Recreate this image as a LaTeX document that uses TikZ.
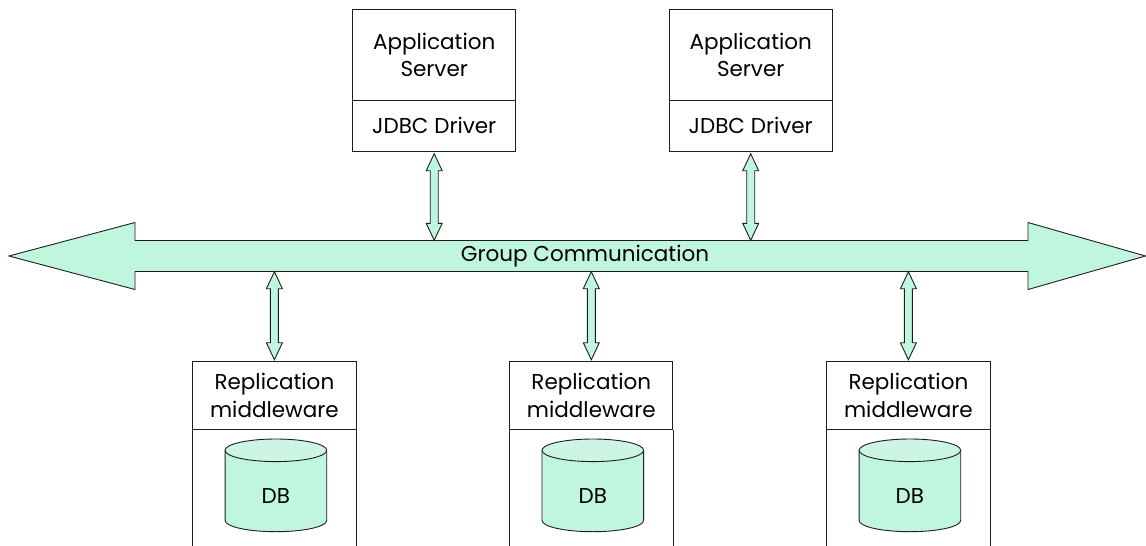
\documentclass[tikz,border=0pt]{standalone}
\usepackage{fontspec}
\setmainfont{Poppins}
\usetikzlibrary{calc}
\definecolor{mint}{RGB}{192,246,222}
\definecolor{minttop}{RGB}{205,245,228}
\definecolor{edge}{RGB}{30,30,30}
\tikzset{
  x=1pt, y=-1pt,
  lbl/.style={font=\fontsize{21.5}{27.5}\selectfont, text=black, align=center, inner sep=0pt},
  part/.style={draw=edge, line width=1pt, fill=white, inner sep=0pt},
  arr/.style={draw=edge, line width=0.9pt, fill=mint, line join=miter},
}
% vertical double-headed block arrow between two points (upper first)
\newcommand\vdarrow[2]{%
  \draw[arr] let \p1=#1, \p2=#2 in
    (\x1,\y1) -- (\x1+8pt,\y1-17pt) -- (\x1+4pt,\y1-17pt) -- (\x1+4pt,\y2+17pt)
    -- (\x1+8pt,\y2+17pt) -- (\x1,\y2) -- (\x1-8pt,\y2+17pt) -- (\x1-4pt,\y2+17pt)
    -- (\x1-4pt,\y1-17pt) -- (\x1-8pt,\y1-17pt) -- cycle;}
\begin{document}
\begin{tikzpicture}
\useasboundingbox (0,0) rectangle (1146,546);

% group communication bus
\draw[arr] (9,256) -- (135,222.5) -- (135,240.5) -- (1028,240.5) -- (1028,222.5)
  -- (1145.5,256) -- (1028,289.5) -- (1028,271.5) -- (135,271.5) -- (135,289.5) -- cycle;
\node[inner sep=0pt, minimum width=893, minimum height=31] (bus) at (581.5,256) {};
\node[lbl] (buslbl) at (585,256) {Group Communication};

% application servers
\foreach \i/\cx in {1/434.2, 2/750.7} {
  \node[part, minimum width=163, minimum height=90.5] (app\i) at (\cx,54.8) {};
  \node[lbl] at (app\i) {Application\\Server};
  \node[part, minimum width=163, minimum height=51.7] (jdbc\i) at (\cx,125.9) {};
  \node[lbl] at (jdbc\i) {JDBC Driver};
  \vdarrow{($(jdbc\i.south)+(0,1.5)$)}{(jdbc\i.south |- bus.north)}
}

% replication sites
\foreach \i/\cx in {1/274.4, 2/591.3, 3/908.4} {
  \node[part, minimum width=163.3, minimum height=67.3] (repl\i) at (\cx,395.4) {};
  \node[lbl] at (repl\i) {Replication\\middleware};
  \draw[edge, line width=1pt] (repl\i.south west) -- ++(0,120);
  \draw[edge, line width=1pt] (repl\i.south east) -- ++(0,120);
  % database cylinder
  \coordinate (db\i) at (\cx+1.5,485);
  \draw[arr, fill=mint] ($(db\i)+(-50.8,-34.7)$) -- ($(db\i)+(-50.8,35.4)$)
    arc[start angle=180, end angle=0, x radius=50.8, y radius=11.3]
    -- ($(db\i)+(50.8,-34.7)$);
  \draw[arr, fill=minttop] ($(db\i)+(0,-34.7)$) ellipse[x radius=50.8, y radius=11.3];
  \node[lbl] (dblbl\i) at ($(db\i)+(0,11)$) {DB};
  \vdarrow{(bus.south -| repl\i.north)}{($(repl\i.north)+(0,-1.5)$)}
}
\end{tikzpicture}
\end{document}
